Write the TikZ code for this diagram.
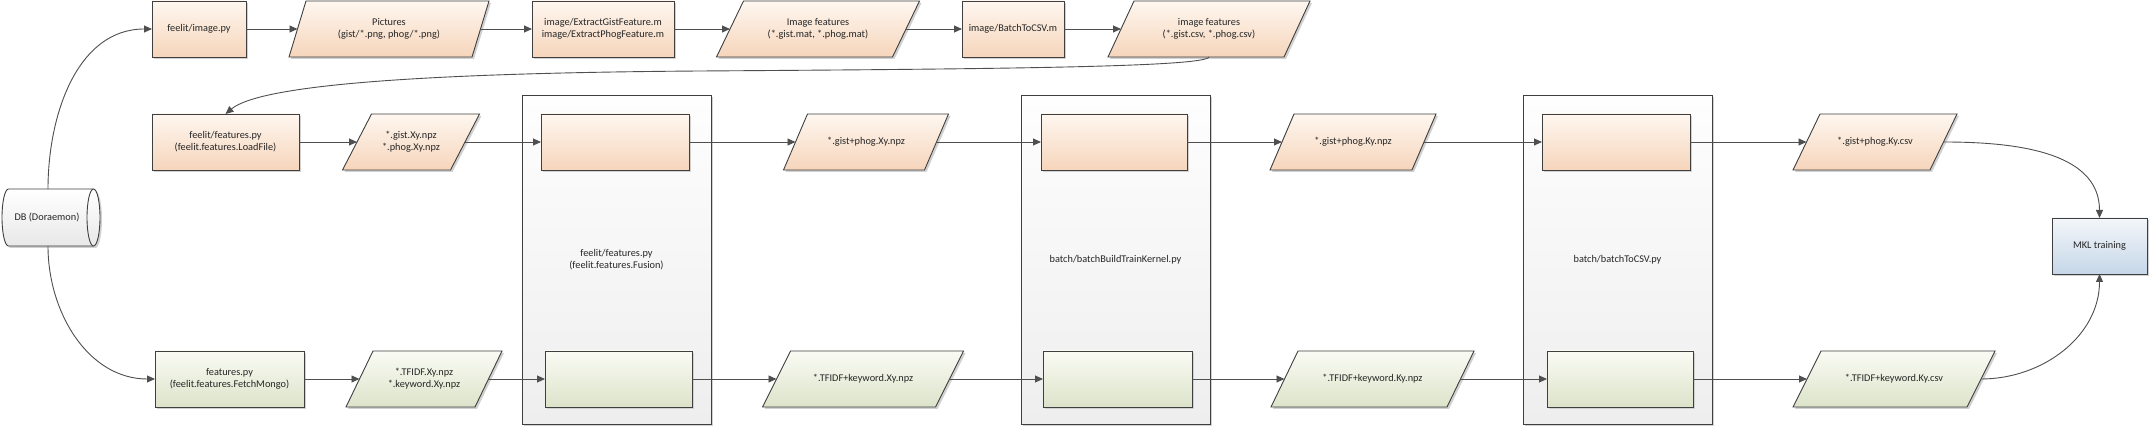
\documentclass[tikz,border=0pt]{standalone}
\usepackage{fontspec}
\setmainfont{Carlito}
\usetikzlibrary{arrows.meta,shapes.geometric,shadows}
\pgfdeclarelayer{background}
\pgfsetlayers{background,main}

\definecolor{orT}{HTML}{FEF7F0}
\definecolor{orB}{HTML}{F6D5BB}
\definecolor{grT}{HTML}{FAFBF4}
\definecolor{grB}{HTML}{DCE3CA}
\definecolor{blT}{HTML}{F3F6FA}
\definecolor{blB}{HTML}{C6D7E8}
\definecolor{cnT}{HTML}{FEFEFE}
\definecolor{cnB}{HTML}{EEEEEE}
\definecolor{edge}{HTML}{3F3F3F}
\definecolor{wire}{HTML}{4F4F4F}
\definecolor{ink}{HTML}{262626}

\tikzset{
  x=1pt, y=-1pt,
  txt/.style={text=ink, font=\fontsize{10.3}{11.8}\selectfont, align=center},
  shad/.style={drop shadow={shadow xshift=2pt, shadow yshift=-2pt, fill=black!18, opacity=1}},
  base/.style={txt, rectangle, draw=edge, line width=0.9pt, outer sep=0pt, inner sep=2pt, minimum height=56},
  orbox/.style={base, top color=orT, bottom color=orB, shad},
  grbox/.style={base, top color=grT, bottom color=grB, shad},
  blbox/.style={base, top color=blT, bottom color=blB, shad},
  cont/.style={base, top color=cnT, bottom color=cnB, shad, minimum width=189, minimum height=329},
  ptext/.style={txt, rectangle, outer sep=0pt, inner sep=2pt, minimum height=56},
  porange/.style={draw=edge, line width=0.9pt, top color=orT, bottom color=orB, shad},
  pgreen/.style={draw=edge, line width=0.9pt, top color=grT, bottom color=grB, shad},
  dbbody/.style={draw=edge, line width=0.9pt, top color=white, bottom color=black!9, shad},
  dbline/.style={draw=edge, line width=0.9pt},
  conn/.style={draw=wire, line width=0.9pt, -{Triangle[length=8pt,width=7pt]}},
}

\newcommand{\pgram}[3]{%
  \begin{pgfonlayer}{background}
  \path[#3] ([xshift=-#2*0.5pt]#1.south west) -- ([xshift=#2*0.5pt]#1.north west)
    -- ([xshift=#2*0.5pt]#1.north east) -- ([xshift=-#2*0.5pt]#1.south east) -- cycle;
  \end{pgfonlayer}}

% horizontal cylinder drawn round a named text node: name, cap x radius, half height
\newcommand{\hcyl}[3]{%
  \begin{pgfonlayer}{background}
  \path[dbbody] ([xshift=#2pt]#1.north west) -- ([xshift=-#2pt]#1.north east)
    arc[start angle=90, end angle=-90, x radius=#2pt, y radius=#3pt]
    -- ([xshift=#2pt]#1.south west)
    arc[start angle=270, end angle=90, x radius=#2pt, y radius=#3pt] -- cycle;
  \path[dbline] ([xshift=-#2pt]#1.north east)
    arc[start angle=90, end angle=270, x radius=#2pt, y radius=#3pt];
  \end{pgfonlayer}}

\begin{document}
\begin{tikzpicture}
\begin{pgfonlayer}{background}
\fill[white] (0,0) rectangle (2150,427);
\end{pgfonlayer}
\useasboundingbox (0,0) rectangle (2150,427);

% containers
\node[cont] (c1) at (616.5,259.5) {feelit/features.py\\(feelit.features.Fusion)};
\node[cont] (c2) at (1115.5,259.5) {batch/batchBuildTrainKernel.py};
\node[cont] (c3) at (1617.5,259.5) {batch/batchToCSV.py};

% row 1
\node[orbox, minimum width=94] (img) at (199,29) {feelit/image.py};
\node[ptext, minimum width=183] (pics) at (389,29) {Pictures\\(gist/*.png, phog/*.png)};
\pgram{pics}{17}{porange}
\node[orbox, minimum width=142] (gist) at (603,29) {image/ExtractGistFeature.m\\image/ExtractPhogFeature.m};
\node[ptext, minimum width=176] (imf) at (818,29) {Image features\\(*.gist.mat, *.phog.mat)};
\pgram{imf}{27}{porange}
\node[orbox, minimum width=102] (bcsv) at (1013,29) {image/BatchToCSV.m};
\node[ptext, minimum width=176] (csvf) at (1209,29) {image features\\(*.gist.csv, *.phog.csv)};
\pgram{csvf}{26}{porange}

% row 2
\node[orbox, minimum width=147] (feat) at (225.5,142) {feelit/features.py\\(feelit.features.LoadFile)};
\node[ptext, minimum width=108] (gxy) at (411,142) {*.gist.Xy.npz\\*.phog.Xy.npz};
\pgram{gxy}{29}{porange}
\node[orbox, minimum width=148] (f1o) at (615,142) {};
\node[ptext, minimum width=141] (gpx) at (866,142) {*.gist+phog.Xy.npz};
\pgram{gpx}{24}{porange}
\node[orbox, minimum width=146] (f2o) at (1114,142) {};
\node[ptext, minimum width=142] (gpk) at (1353,142) {*.gist+phog.Ky.npz};
\pgram{gpk}{24}{porange}
\node[orbox, minimum width=148] (f3o) at (1616,142) {};
\node[ptext, minimum width=137] (gpc) at (1875,142) {*.gist+phog.Ky.csv};
\pgram{gpc}{27}{porange}

% row 3
\node[grbox, minimum width=149] (fm) at (229.5,379) {features.py\\(feelit.features.FetchMongo)};
\node[ptext, minimum width=129] (txy) at (424,379) {*.TFIDF.Xy.npz\\*.keyword.Xy.npz};
\pgram{txy}{27}{pgreen}
\node[grbox, minimum width=147] (f1g) at (618.5,379) {};
\node[ptext, minimum width=173] (tkx) at (863,379) {*.TFIDF+keyword.Xy.npz};
\pgram{tkx}{28}{pgreen}
\node[grbox, minimum width=149] (f2g) at (1117.5,379) {};
\node[ptext, minimum width=176] (tkk) at (1372.5,379) {*.TFIDF+keyword.Ky.npz};
\pgram{tkk}{27}{pgreen}
\node[grbox, minimum width=146] (f3g) at (1620,379) {};
\node[ptext, minimum width=174] (tkc) at (1894,379) {*.TFIDF+keyword.Ky.csv};
\pgram{tkc}{28}{pgreen}

% end nodes
\node[blbox, minimum width=95] (mkl) at (2099.5,246) {MKL training};
\node[ptext, minimum width=98, minimum height=57] (db) at (51,217.5) {\hspace*{-8pt}DB (Doraemon)};
\hcyl{db}{6.5}{28.5}

% connectors row 1
\draw[conn] (img.east) -- (pics.west);
\draw[conn] (pics.east) -- (gist.west);
\draw[conn] (gist.east) -- (imf.west);
\draw[conn] (imf.east) -- (bcsv.west);
\draw[conn] (bcsv.east) -- (csvf.west);

% row 2
\draw[conn] (feat.east) -- (gxy.west);
\draw[conn] (gxy.east) -- (f1o.west);
\draw[conn] (f1o.east) -- (gpx.west);
\draw[conn] (gpx.east) -- (f2o.west);
\draw[conn] (f2o.east) -- (gpk.west);
\draw[conn] (gpk.east) -- (f3o.west);
\draw[conn] (f3o.east) -- (gpc.west);

% row 3
\draw[conn] (fm.east) -- (txy.west);
\draw[conn] (txy.east) -- (f1g.west);
\draw[conn] (f1g.east) -- (tkx.west);
\draw[conn] (tkx.east) -- (f2g.west);
\draw[conn] (f2g.east) -- (tkk.west);
\draw[conn] (tkk.east) -- (f3g.west);
\draw[conn] (f3g.east) -- (tkc.west);

% curves
\coordinate (bend) at (700,71);
\draw[conn] (csvf.south) .. controls (1205,67) and (1000,69) .. (bend)
  .. controls (420,73) and (260,85) .. (feat.north);
\draw[conn] ([xshift=-3pt]db.north) to[out=90,in=180] (img.west);
\draw[conn] ([xshift=-3pt]db.south) to[out=-90,in=180] (fm.west);
\draw[conn] (gpc.east) to[out=0,in=90] (mkl.north);
\draw[conn] (tkc.east) to[out=0,in=-90] (mkl.south);
\end{tikzpicture}
\end{document}
